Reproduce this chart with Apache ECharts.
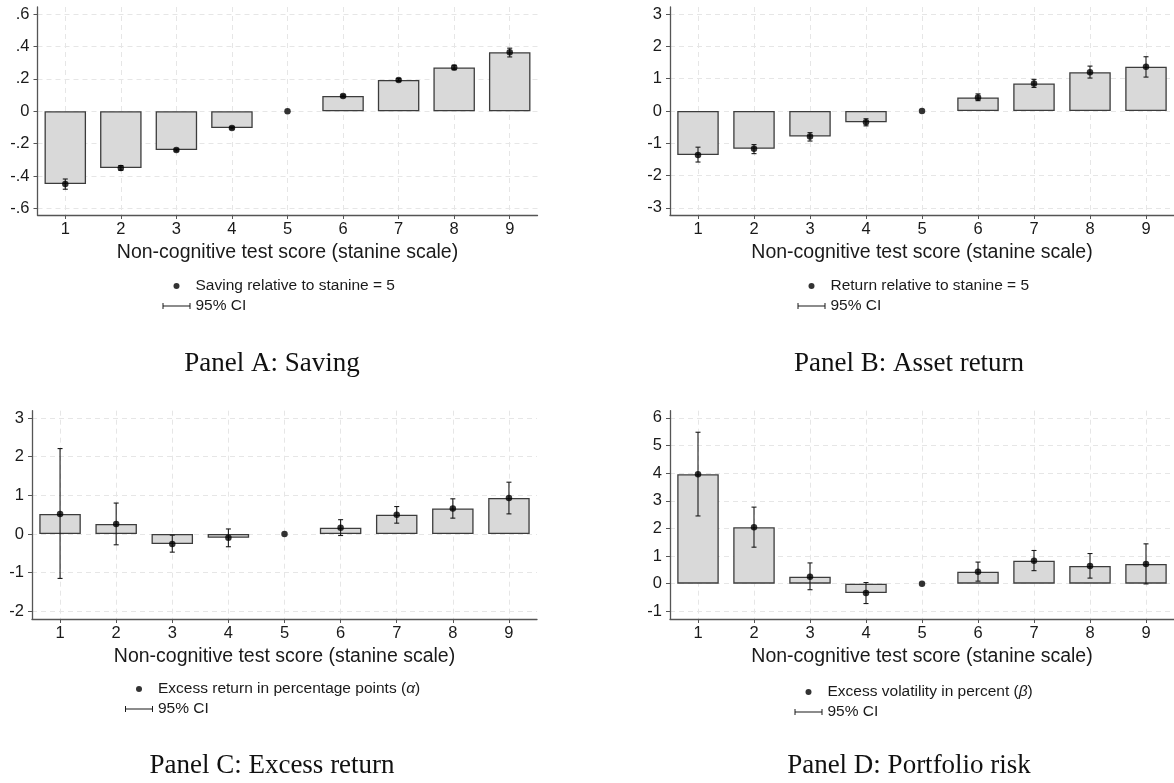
<!DOCTYPE html>
<html>
<head>
<meta charset="utf-8">
<script src="https://cdn.jsdelivr.net/npm/echarts@6/dist/echarts.min.js"></script>
<style>
  html, body { margin: 0; background: #fff; }
  #chart { width: 1174px; height: 783px; }
</style>
</head>
<body>
<div id="chart"></div>
<script>
// ===== Data =====
const stanine = [1, 2, 3, 4, 5, 6, 7, 8, 9];   // 5 is the reference group
const xTitle = 'Non-cognitive test score (stanine scale)';
const ciName = '95% CI';

// Panel A: Saving
const savingEst = [-0.449, -0.350, -0.239, -0.103, 0, 0.094, 0.193, 0.270, 0.364];
const savingLo  = [-0.481, -0.364, -0.245, -0.109, 0, 0.088, 0.185, 0.256, 0.335];
const savingHi  = [-0.418, -0.335, -0.233, -0.097, 0, 0.100, 0.201, 0.284, 0.389];
const savingTicks = [-0.6, -0.4, -0.2, 0, 0.2, 0.4, 0.6];

// Panel B: Asset return
const returnEst = [-1.36, -1.17, -0.79, -0.35, 0, 0.42, 0.85, 1.20, 1.37];
const returnLo  = [-1.58, -1.32, -0.93, -0.46, 0, 0.32, 0.73, 1.02, 1.05];
const returnHi  = [-1.12, -1.04, -0.67, -0.24, 0, 0.53, 0.98, 1.39, 1.68];
const returnTicks = [-3, -2, -1, 0, 1, 2, 3];

// Panel C: Excess return (alpha)
const alphaEst = [0.52, 0.26, -0.26, -0.10, 0, 0.16, 0.50, 0.66, 0.93];
const alphaLo  = [-1.15, -0.28, -0.47, -0.33, 0, -0.04, 0.28, 0.41, 0.52];
const alphaHi  = [2.21, 0.80, -0.03, 0.13, 0, 0.37, 0.71, 0.91, 1.34];
const alphaTicks = [-2, -1, 0, 1, 2, 3];

// Panel D: Portfolio risk (beta)
const betaEst = [3.96, 2.04, 0.25, -0.34, 0, 0.43, 0.83, 0.64, 0.71];
const betaLo  = [2.45, 1.32, -0.22, -0.72, 0, 0.09, 0.47, 0.20, -0.01];
const betaHi  = [5.48, 2.77, 0.75, 0.04, 0, 0.78, 1.20, 1.09, 1.44];
const betaTicks = [-1, 0, 1, 2, 3, 4, 5, 6];

// ===== Style =====
const FONT_SANS  = 'Arial, "Liberation Sans", sans-serif';
const FONT_SERIF = '"Liberation Serif", "Times New Roman", serif';
const INK      = '#1a1a1a';
const AXIS     = '#555555';
const GRID     = '#e6e6e6';
const BAR_FILL = '#d9d9d9';
const BAR_EDGE = '#3c3c3c';
const CI_ICON  = 'path://M0,0H1V6H0Z M1,2.5H27V3.5H1Z M27,0H28V6H27Z';

const panels = [
  { name: 'Saving relative to stanine = 5', caption: 'Panel A: Saving',
    est: savingEst, lo: savingLo, hi: savingHi, ticks: savingTicks,
    grid: { left: 37.5, top: 7, width: 500, height: 208 }, yMin: -0.64, yMax: 0.643,
    legend: { left: 157.5, top: 273 }, capPos: [272, 364] },
  { name: 'Return relative to stanine = 5', caption: 'Panel B: Asset return',
    est: returnEst, lo: returnLo, hi: returnHi, ticks: returnTicks,
    grid: { left: 670, top: 7, width: 505.5, height: 208 }, yMin: -3.22, yMax: 3.22,
    legend: { left: 792.5, top: 273 }, capPos: [909, 364] },
  { name: 'Excess return in percentage points (α)', caption: 'Panel C: Excess return',
    est: alphaEst, lo: alphaLo, hi: alphaHi, ticks: alphaTicks,
    grid: { left: 32, top: 410.7, width: 505, height: 208.3 }, yMin: -2.2, yMax: 3.19,
    legend: { left: 120, top: 676 }, capPos: [272, 766] },
  { name: 'Excess volatility in percent (β)', caption: 'Panel D: Portfolio risk',
    est: betaEst, lo: betaLo, hi: betaHi, ticks: betaTicks,
    grid: { left: 670, top: 410.7, width: 505.5, height: 208.3 }, yMin: -1.28, yMax: 6.26,
    legend: { left: 789.5, top: 679 }, capPos: [909, 766] },
];

function fmtTick(v) {
  if (v === 0) return '0';
  return String(v).replace(/^(-?)0\./, '$1.');   // Stata style: .6, -.2
}

function ciRender(params, api) {
  const x = api.value(0);
  const top = api.coord([x, api.value(2)]);
  const bot = api.coord([x, api.value(1)]);
  const cap = 2.5;
  const st = { stroke: INK, lineWidth: 1.1 };
  return {
    type: 'group',
    children: [
      { type: 'line', shape: { x1: top[0], y1: top[1], x2: bot[0], y2: bot[1] }, style: st },
      { type: 'line', shape: { x1: top[0] - cap, y1: top[1], x2: top[0] + cap, y2: top[1] }, style: st },
      { type: 'line', shape: { x1: bot[0] - cap, y1: bot[1], x2: bot[0] + cap, y2: bot[1] }, style: st },
    ],
  };
}

const grids = [], xAxes = [], yAxes = [], series = [], legends = [], captions = [];

panels.forEach((p, i) => {
  grids.push(Object.assign({ containLabel: false }, p.grid));

  xAxes.push({
    gridIndex: i, type: 'value', min: 0.5, max: 9.5,
    name: xTitle, nameLocation: 'middle', nameGap: 28,
    nameTextStyle: { color: INK, fontFamily: FONT_SANS, fontSize: 19.5 },
    axisLine: { show: true, onZero: false, lineStyle: { color: AXIS, width: 1.3 } },
    axisTick: { show: true, length: 4, customValues: stanine, lineStyle: { color: AXIS } },
    axisLabel: { customValues: stanine, margin: 6, color: INK, fontFamily: FONT_SANS, fontSize: 16.5 },
    splitLine: { show: true, lineStyle: { color: GRID, type: [5, 4] } },
  });

  yAxes.push({
    gridIndex: i, type: 'value', min: p.yMin, max: p.yMax,
    axisLine: { show: true, onZero: false, lineStyle: { color: AXIS, width: 1.3 } },
    axisTick: { show: true, length: 4, customValues: p.ticks, lineStyle: { color: AXIS } },
    axisLabel: { customValues: p.ticks, margin: 8, formatter: fmtTick,
                 color: INK, fontFamily: FONT_SANS, fontSize: 16.5 },
    splitLine: { show: true, lineStyle: { color: GRID, type: [5, 4] } },
  });

  // bars (reference group 5 has no bar)
  const barData = stanine.map((s, k) => [s, p.est[k]]).filter(d => d[1] !== 0);
  series.push({
    type: 'bar', xAxisIndex: i, yAxisIndex: i, barWidth: 41.5, silent: true,
    data: barData,
    itemStyle: { color: BAR_FILL, borderColor: BAR_EDGE, borderWidth: 1.3 },
  });

  const ciData = stanine.map((s, k) => [s, p.lo[k], p.hi[k]]).filter(d => d[1] !== d[2]);
  series.push({
    name: ciName, type: 'custom', xAxisIndex: i, yAxisIndex: i, silent: true,
    renderItem: ciRender, encode: { x: 0, y: [1, 2] },
    itemStyle: { color: INK },
    data: ciData, z: 3,
  });

  series.push({
    name: p.name, type: 'scatter', xAxisIndex: i, yAxisIndex: i, silent: true,
    symbol: 'circle', symbolSize: 6.5,
    itemStyle: { color: '#000' },
    data: stanine.map((s, k) => [s, p.est[k]]), z: 4,
  });

  legends.push({
    left: p.legend.left, top: p.legend.top, orient: 'vertical',
    itemWidth: 28, itemHeight: 6, itemGap: 4, selectedMode: false,
    data: [{ name: p.name, icon: 'circle' }, { name: ciName, icon: CI_ICON }],
    formatter: n => n.replace(/([αβ])/, '{i|$1}'),
    textStyle: { color: INK, fontFamily: FONT_SANS, fontSize: 15.5,
                 rich: { i: { fontStyle: 'italic', fontFamily: FONT_SANS, fontSize: 15.5, color: INK } } },
  });

  captions.push({
    type: 'text', x: p.capPos[0], y: p.capPos[1],
    style: { text: p.caption, fill: '#111', font: '27px ' + FONT_SERIF,
             textAlign: 'center', textVerticalAlign: 'middle' },
  });
});

const chart = echarts.init(document.getElementById('chart'), null, { renderer: 'canvas' });
chart.setOption({
  animation: false,
  backgroundColor: '#fff',
  grid: grids,
  xAxis: xAxes,
  yAxis: yAxes,
  legend: legends,
  series: series,
  graphic: captions,
});
</script>
</body>
</html>
